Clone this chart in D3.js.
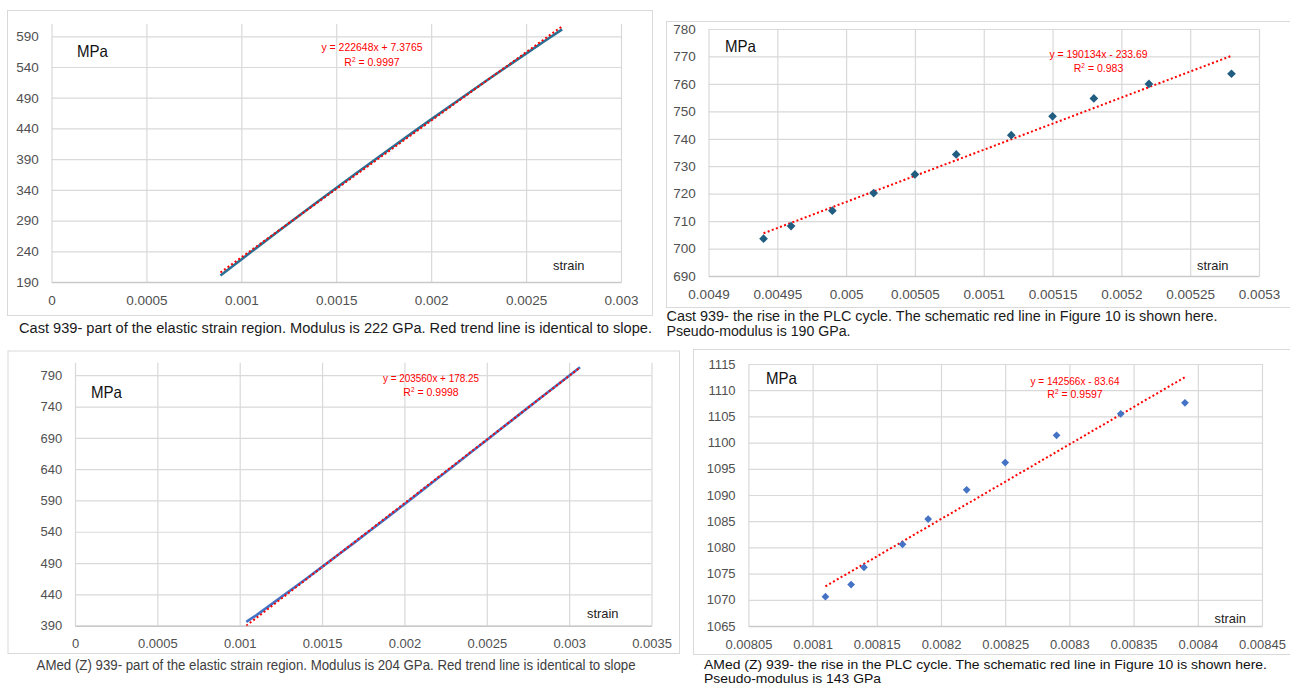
<!DOCTYPE html>
<html><head><meta charset="utf-8">
<script src="https://cdn.jsdelivr.net/npm/d3@7"></script>
<style>
body{margin:0;background:#fff;}
svg{display:block;}
text{font-family:"Liberation Sans",Arial,sans-serif;}
</style>
</head><body>
<svg id="c" width="1290" height="686"></svg>
<script>
// ---------- Panel 1: Cast 939 elastic region ----------
const p1Strain = [0.00089,0.0010,0.0011,0.0012,0.0013,0.0014,0.0015,0.0016,0.0017,0.0018,0.0019,0.0020,0.0021,0.0022,0.0023,0.0024,0.0025,0.0026,0.00269];
const p1Stress = [200.5,226.7,250.4,273.8,297.1,320.2,343.1,365.8,388.3,410.6,432.8,454.8,476.5,498.1,519.6,540.8,561.8,582.7,601.3];
const p1Slope = 222648, p1Intercept = 7.3765;
const p1Equation = ["y = 222648x + 7.3765", "0.9997"];
const p1XTicks = [0,0.0005,0.001,0.0015,0.002,0.0025,0.003];
const p1XLabels = ["0","0.0005","0.001","0.0015","0.002","0.0025","0.003"];
const p1YTicks = [190,240,290,340,390,440,490,540,590];
const p1YRange = [190,610];
const p1Caption = ["Cast 939- part of the elastic strain region. Modulus is 222 GPa. Red trend line is identical to slope."];

// ---------- Panel 2: Cast 939 PLC rise ----------
const p2Strain = [0.00494,0.00496,0.00499,0.00502,0.00505,0.00508,0.00512,0.00515,0.00518,0.00522,0.00528];
const p2Stress = [703.6,708.2,713.8,720.2,727.0,734.3,741.3,748.2,754.7,760.0,763.7];
const p2Slope = 190134, p2Intercept = -233.69;
const p2Equation = ["y = 190134x - 233.69", "0.983"];
const p2XTicks = [0.0049,0.00495,0.005,0.00505,0.0051,0.00515,0.0052,0.00525,0.0053];
const p2XLabels = ["0.0049","0.00495","0.005","0.00505","0.0051","0.00515","0.0052","0.00525","0.0053"];
const p2YTicks = [690,700,710,720,730,740,750,760,770,780];
const p2YRange = [690,780];
const p2Caption = ["Cast 939- the rise in the PLC cycle. The schematic red line in Figure 10 is shown here.","Pseudo-modulus is 190 GPa."];

// ---------- Panel 3: AMed (Z) 939 elastic region ----------
const p3Strain = [0.00104,0.0011,0.0012,0.0013,0.0014,0.0015,0.0016,0.0017,0.0018,0.0019,0.0020,0.0021,0.0022,0.0023,0.0024,0.0025,0.0026,0.0027,0.0028,0.0029,0.0030,0.003066];
const p3Stress = [396.0,406.5,425.6,444.9,464.3,483.9,503.6,523.5,543.6,563.8,584.1,604.5,625.0,645.5,666.1,686.7,707.3,727.9,748.4,768.9,789.3,802.8];
const p3Slope = 203560, p3Intercept = 178.25;
const p3Equation = ["y = 203560x + 178.25", "0.9998"];
const p3XTicks = [0,0.0005,0.001,0.0015,0.002,0.0025,0.003,0.0035];
const p3XLabels = ["0","0.0005","0.001","0.0015","0.002","0.0025","0.003","0.0035"];
const p3YTicks = [390,440,490,540,590,640,690,740,790];
const p3YRange = [390,810];
const p3Caption = ["AMed (Z) 939- part of the elastic strain region. Modulus is 204 GPa. Red trend line is identical to slope"];

// ---------- Panel 4: AMed (Z) 939 PLC rise ----------
const p4Strain = [0.00811,0.00813,0.00814,0.00817,0.00819,0.00822,0.00825,0.00829,0.00834,0.00839];
const p4Stress = [1070.6,1072.9,1076.2,1080.6,1085.4,1091.0,1096.2,1101.4,1105.5,1107.6];
const p4Slope = 142566, p4Intercept = -83.64;
const p4Equation = ["y = 142566x - 83.64", "0.9597"];
const p4XTicks = [0.00805,0.0081,0.00815,0.0082,0.00825,0.0083,0.00835,0.0084,0.00845];
const p4XLabels = ["0.00805","0.0081","0.00815","0.0082","0.00825","0.0083","0.00835","0.0084","0.00845"];
const p4YTicks = [1065,1070,1075,1080,1085,1090,1095,1100,1105,1110,1115];
const p4YRange = [1065,1115];
const p4Caption = ["AMed (Z) 939- the rise in the PLC cycle. The schematic red line in Figure 10 is shown here.","Pseudo-modulus is 143 GPa"];

const unitLabel = "MPa";
const axisTitle = "strain";

// ---------- layout / style (kept separate from data) ----------
const panels = [
  {data:{x:p1Strain,y:p1Stress,slope:p1Slope,b:p1Intercept,eq:p1Equation,xt:p1XTicks,xl:p1XLabels,yt:p1YTicks,yr:p1YRange,cap:p1Caption},
   frame:[7,10,652,315], plot:[51.5,24,621,282], kind:"line", color:"#2b6f94",
   eqX:372, eqY:[50.7,65.5], eqW:[101,null], mpa:[77,56.7], strainPos:[553,269.5],
   cap:{x:19,y:333,lh:14,w:[633],size:14,color:"#1a1a1a"}, tickSize:13.5},
  {data:{x:p2Strain,y:p2Stress,slope:p2Slope,b:p2Intercept,eq:p2Equation,xt:p2XTicks,xl:p2XLabels,yt:p2YTicks,yr:p2YRange,cap:p2Caption},
   frame:[666,21,1300,307], plot:[708.5,29,1259,276], kind:"points", color:"#215d80", msize:38,
   eqX:1098.5, eqY:[57.6,72], eqW:[98,null], mpa:[725,51.7], strainPos:[1197,269.5],
   cap:{x:666.5,y:321,lh:14.5,w:[551,184],size:14,color:"#1a1a1a"}, tickSize:13.5},
  {data:{x:p3Strain,y:p3Stress,slope:p3Slope,b:p3Intercept,eq:p3Equation,xt:p3XTicks,xl:p3XLabels,yt:p3YTicks,yr:p3YRange,cap:p3Caption},
   frame:[7.5,350.5,679,653], plot:[75,362.7,651.5,625.7], kind:"line", color:"#4472c4",
   eqX:431, eqY:[382,396.3], eqW:[96,null], mpa:[91,398], strainPos:[587,618.3],
   cap:{x:36.6,y:670,lh:14,w:[599],size:14,color:"#404040"}, tickSize:13},
  {data:{x:p4Strain,y:p4Stress,slope:p4Slope,b:p4Intercept,eq:p4Equation,xt:p4XTicks,xl:p4XLabels,yt:p4YTicks,yr:p4YRange,cap:p4Caption},
   frame:[693,349,1300,654], plot:[748.4,364,1262,626], kind:"points", color:"#4472c4", msize:30,
   eqX:1075, eqY:[384.7,398.3], eqW:[89,null], mpa:[766,384.3], strainPos:[1214.5,623.3],
   cap:{x:704,y:669,lh:14,w:[563,177],size:13.5,color:"#111"}, tickSize:13}
];

const svg = d3.select("#c");
const gridColor = "#d9d9d9";

panels.forEach((p, i) => {
  const d = p.data;
  const [L, T, R, B] = p.plot;
  const x = d3.scaleLinear().domain([d.xt[0], d.xt[d.xt.length-1]]).range([L, R]);
  const y = d3.scaleLinear().domain(d.yr).range([B, T]);
  const g = svg.append("g");

  // frame
  const [fx0, fy0, fx1, fy1] = p.frame;
  g.append("rect").attr("x", fx0+0.5).attr("y", fy0+0.5).attr("width", fx1-fx0).attr("height", fy1-fy0)
    .attr("fill", "#fff").attr("stroke", gridColor).attr("stroke-width", 1);

  // gridlines via axes
  g.append("g").attr("transform", `translate(0,${B})`)
    .call(d3.axisBottom(x).tickValues(d.xt).tickSize(-(B-T)).tickFormat(""))
    .call(a => a.select(".domain").remove())
    .call(a => a.selectAll("line").attr("stroke", gridColor).attr("stroke-width", 1.2));
  g.append("g").attr("transform", `translate(${L},0)`)
    .call(d3.axisLeft(y).tickValues(d.yt).tickSize(-(R-L)).tickFormat(""))
    .call(a => a.select(".domain").remove())
    .call(a => a.selectAll("line").attr("stroke", gridColor).attr("stroke-width", 1.2));

  // bottom axis with labels
  const xa = g.append("g").attr("transform", `translate(0,${B})`)
    .call(d3.axisBottom(x).tickValues(d.xt).tickSize(0).tickPadding(13.4).tickFormat((v, k) => d.xl[k]));
  xa.select(".domain").attr("stroke", "#c9c9c9").attr("stroke-width", 1.5);
  xa.selectAll("text").attr("font-size", p.tickSize).attr("fill", "#505050")
    .style("font-family", '"Liberation Sans",Arial,sans-serif');

  // left axis labels
  const ya = g.append("g").attr("transform", `translate(${L},0)`)
    .call(d3.axisLeft(y).tickValues(d.yt).tickSize(0).tickPadding(12.8).tickFormat(d3.format("d")));
  ya.select(".domain").remove();
  ya.selectAll("text").attr("font-size", p.tickSize).attr("fill", "#505050")
    .style("font-family", '"Liberation Sans",Arial,sans-serif');

  // clip
  const cid = "clip" + i;
  svg.append("clipPath").attr("id", cid).append("rect")
    .attr("x", L).attr("y", T - 6).attr("width", R - L).attr("height", B - T + 6);
  const pg = g.append("g").attr("clip-path", `url(#${cid})`);

  const pts = d.x.map((v, k) => [v, d.y[k]]);
  if (p.kind === "line") {
    pg.append("path").datum(pts)
      .attr("d", d3.line().x(q => x(q[0])).y(q => y(q[1])))
      .attr("fill", "none").attr("stroke", p.color).attr("stroke-width", 2.6);
  }

  // trend line (from the chart's own fit equation) over the data's strain extent
  const ext = d3.extent(d.x);
  const trend = ext.map(v => [v, d.slope * v + d.b]);
  pg.append("path").datum(trend)
    .attr("d", d3.line().x(q => x(q[0])).y(q => y(q[1])))
    .attr("fill", "none").attr("stroke", "#ff0000").attr("stroke-width", 2)
    .attr("stroke-dasharray", "2,2.4");

  if (p.kind === "points") {
    g.selectAll(".m" + i).data(pts).join("path")
      .attr("transform", q => `translate(${x(q[0])},${y(q[1])}) rotate(45)`)
      .attr("d", d3.symbol(d3.symbolSquare, p.msize))
      .attr("fill", p.color);
  }

  // equation text
  const e1 = g.append("text").attr("x", p.eqX).attr("y", p.eqY[0]).attr("text-anchor", "middle")
    .attr("font-size", 10.5).attr("fill", "#ff0000").text(d.eq[0]);
  if (p.eqW[0]) e1.attr("textLength", p.eqW[0]).attr("lengthAdjust", "spacingAndGlyphs");
  const e2 = g.append("text").attr("x", p.eqX).attr("y", p.eqY[1]).attr("text-anchor", "middle")
    .attr("font-size", 10.5).attr("fill", "#ff0000");
  e2.append("tspan").text("R");
  e2.append("tspan").attr("font-size", 6.5).attr("dy", -4).text("2");
  e2.append("tspan").attr("dy", 4).text(" = " + d.eq[1]);

  // unit label + axis title
  g.append("text").attr("x", p.mpa[0]).attr("y", p.mpa[1]).attr("font-size", 16.5).attr("fill", "#111")
    .attr("textLength", 31).attr("lengthAdjust", "spacingAndGlyphs").text(unitLabel);
  g.append("text").attr("x", p.strainPos[0]).attr("y", p.strainPos[1]).attr("font-size", 13.5).attr("fill", "#222")
    .attr("textLength", 31.5).attr("lengthAdjust", "spacingAndGlyphs").text(axisTitle);

  // caption
  d.cap.forEach((line, k) => {
    const t = svg.append("text").attr("x", p.cap.x).attr("y", p.cap.y + k * p.cap.lh)
      .attr("font-size", p.cap.size).attr("fill", p.cap.color).text(line);
    if (p.cap.w[k]) t.attr("textLength", p.cap.w[k]).attr("lengthAdjust", "spacingAndGlyphs");
  });
});
</script>
</body></html>
